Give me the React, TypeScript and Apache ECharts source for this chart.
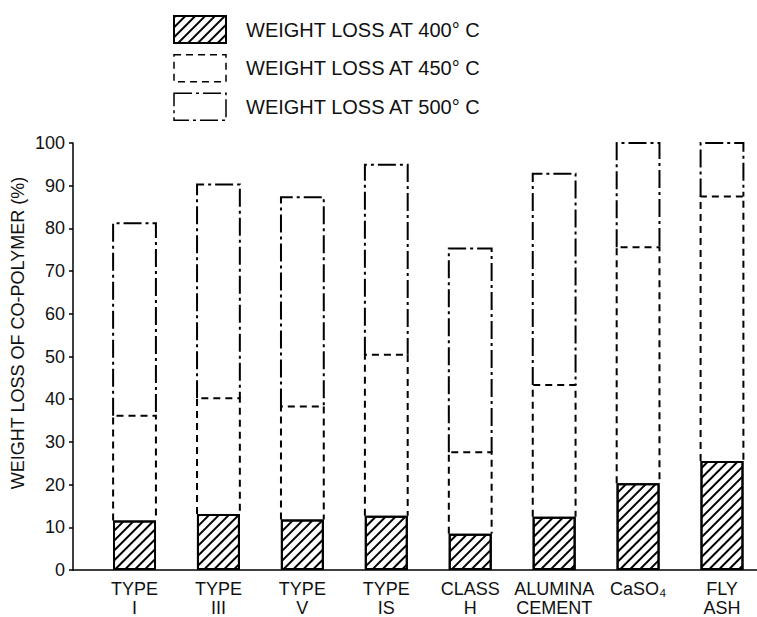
import React, { useEffect, useRef } from "react";
import * as echarts from "echarts";

const categories = [
  "TYPE\nI",
  "TYPE\nIII",
  "TYPE\nV",
  "TYPE\nIS",
  "CLASS\nH",
  "ALUMINA\nCEMENT",
  "CaSO₄",
  "FLY\nASH",
];
const loss400 = [11.6, 13.1, 11.8, 12.7, 8.5, 12.5, 20.3, 25.5];
const loss450 = [36.1, 40.2, 38.3, 50.4, 27.6, 43.3, 75.6, 87.5];
const loss500 = [81.2, 90.3, 87.3, 94.9, 75.3, 92.8, 100, 100];
const seriesNames = [
  "WEIGHT LOSS AT 400° C",
  "WEIGHT LOSS AT 450° C",
  "WEIGHT LOSS AT 500° C",
];
const yTicks = [0, 10, 20, 30, 40, 50, 60, 70, 80, 90, 100];

const FONT = "'Liberation Sans', Arial, sans-serif";
const INK = "#111";
const BAR_FRAC = 0.51;
const DASH450 = [7, 5];
const DASH500 = [18, 4, 3, 4];

export default function App() {
  const ref = useRef<HTMLDivElement>(null);
  useEffect(() => {
    if (!ref.current) return;
    const chart = echarts.init(ref.current, null, { renderer: "svg" });
    const idx = categories.map((_, i) => i);
    const hatch = {
      symbol: "rect",
      symbolSize: 1,
      dashArrayX: [1, 0],
      dashArrayY: [2, 5],
      rotation: -Math.PI / 4,
      color: "#000",
      backgroundColor: "#fff",
    };
    const outline = (dash: number[]) => (params: any, api: any) => {
      const i = api.value(0);
      const lo = api.value(1);
      const hi = api.value(2);
      const p0 = api.coord([i, lo]);
      const p1 = api.coord([i, hi]);
      const w = api.size([1, 0])[0] * BAR_FRAC;
      const xl = p0[0] - w / 2;
      const xr = p0[0] + w / 2;
      return {
        type: "polyline",
        shape: {
          points: [
            [xl, p0[1]],
            [xl, p1[1]],
            [xr, p1[1]],
            [xr, p0[1]],
          ],
        },
        style: { stroke: "#000", lineWidth: 2, lineDash: dash, fill: null },
      };
    };
    chart.setOption({
      animation: false,
      backgroundColor: "#fff",
      legend: {
        orient: "vertical",
        left: 168,
        top: 10,
        itemWidth: 52,
        itemHeight: 27,
        itemGap: 10,
        selectedMode: false,
        textStyle: {
          fontFamily: FONT,
          fontSize: 20,
          color: INK,
          padding: [0, 0, 0, 15],
        },
        data: [
          {
            name: seriesNames[0],
            icon: "rect",
            itemStyle: {
              color: "#fff",
              borderColor: "#000",
              borderWidth: 2,
              decal: hatch,
            },
          },
          {
            name: seriesNames[1],
            icon: "rect",
            itemStyle: {
              color: "#fff",
              borderColor: "#000",
              borderWidth: 1.5,
              borderType: DASH450,
            },
          },
          {
            name: seriesNames[2],
            icon: "rect",
            itemStyle: {
              color: "#fff",
              borderColor: "#000",
              borderWidth: 1.5,
              borderType: DASH500,
            },
          },
        ],
      },
      graphic: [
        {
          type: "text",
          x: 18,
          y: 333,
          rotation: Math.PI / 2,
          style: {
            text: "WEIGHT LOSS OF CO-POLYMER (%)",
            fontFamily: FONT,
            fontSize: 18,
            fill: INK,
            align: "center",
            verticalAlign: "middle",
          },
        },
      ],
      grid: { left: 73, right: 0, top: 143, bottom: 43 },
      xAxis: {
        type: "value",
        min: -0.733,
        max: 7.417,
        splitLine: { show: false },
        axisTick: { show: false },
        axisLine: {
          show: true,
          onZero: false,
          lineStyle: { color: "#000", width: 1.5 },
        },
        axisLabel: {
          customValues: idx,
          formatter: (v: number) => categories[Math.round(v)] ?? "",
          fontFamily: FONT,
          fontSize: 18,
          color: INK,
          lineHeight: 19,
          margin: 9,
        },
      },
      yAxis: {
        type: "value",
        min: 0,
        max: 100,
        interval: 10,
        splitLine: { show: false },
        axisLine: {
          show: true,
          onZero: false,
          lineStyle: { color: "#000", width: 1.5 },
        },
        axisTick: { show: true, length: 4, lineStyle: { color: "#000", width: 1.5 } },
        axisLabel: {
          fontFamily: FONT,
          fontSize: 18,
          color: INK,
          margin: 8,
          formatter: (v: number) => (yTicks.includes(v) ? String(v) : ""),
        },
      },
      series: [
        {
          name: seriesNames[2],
          type: "custom",
          z: 2,
          renderItem: outline(DASH500),
          encode: { x: 0, y: 2 },
          data: idx.map((i) => [i, loss450[i], loss500[i]]),
        },
        {
          name: seriesNames[1],
          type: "custom",
          z: 3,
          renderItem: outline(DASH450),
          encode: { x: 0, y: 2 },
          data: idx.map((i) => [i, loss400[i], loss450[i]]),
        },
        {
          name: seriesNames[0],
          type: "bar",
          z: 4,
          barWidth: 43,
          itemStyle: {
            color: "#fff",
            borderColor: "#000",
            borderWidth: 2,
            decal: hatch,
          },
          data: idx.map((i) => [i, loss400[i]]),
        },
      ],
    });
    return () => chart.dispose();
  }, []);
  return (
    <div
      ref={ref}
      style={{ position: "absolute", left: 0, top: 0, width: 757, height: 617 }}
    />
  );
}
